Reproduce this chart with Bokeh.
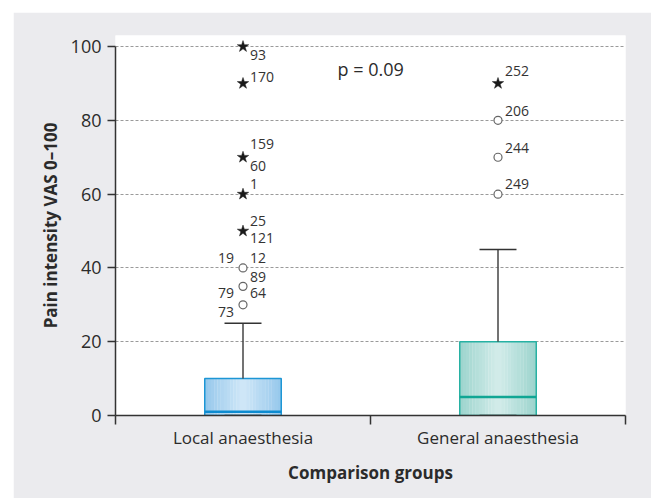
from bokeh.plotting import figure
from bokeh.layouts import column, row
from bokeh.models import Range1d, FixedTicker, ColumnDataSource, Label, Spacer
from bokeh.core.properties import value
from bokeh.embed import file_html
from bokeh.resources import INLINE

# ---------------- data ----------------
groups = ["Local anaesthesia", "General anaesthesia"]
q1 = [0, 0]
medians = [1, 5]
q3 = [10, 20]
whisker_low = [0, 0]
whisker_high = [25, 45]

local_outliers = [40, 35, 30]
local_extremes = [100, 90, 70, 60, 50]
general_outliers = [80, 70, 60]
general_extremes = [90]

local_case_ids = ["93", "170", "159", "60", "1", "25", "121", "19", "12", "89", "79", "64", "73"]
local_case_values = [100, 90, 70, 70, 60, 50, 50, 40, 40, 35, 35, 35, 30]
general_case_ids = ["252", "206", "244", "249"]
general_case_values = [90, 80, 70, 60]

y_ticks = [0, 20, 40, 60, 80, 100]
p_text = "p = 0.09"

# ---------------- styles ----------------
FONT = "Open Sans"
TEXT = "#2b2b2b"
PANEL = "#ebebee"
box_edge = ["#96c8ec", "#9cd4cd"]
box_center = ["#d0e7f7", "#d3ecea"]
box_border = ["#1d96d5", "#27b1a3"]
median_color = ["#0d8bd0", "#10a694"]
box_w = 0.30
cap_w = 0.145
# label placement per case: (side, dy px)
local_label_side = ["r", "r", "r", "r", "r", "r", "r", "l", "r", "r", "l", "r", "l"]
local_label_dy = [8, -6, -13, 9, -10, -10, 7, -10, -10, -9, 7, 7, 7]
general_label_side = ["r", "r", "r", "r"]
general_label_dy = [-12, -9, -9, -10]

pos = [i + 0.5 for i in range(len(groups))]

p = figure(width=638, height=486, x_range=Range1d(0, len(groups)), y_range=Range1d(0, 103),
           output_backend="svg", toolbar_location=None,
           min_border_left=102, min_border_right=26, min_border_top=23, min_border_bottom=83)
p.border_fill_color = PANEL
p.background_fill_color = "white"
p.outline_line_color = None

p.xgrid.visible = False
p.ygrid.ticker = FixedTicker(ticks=y_ticks[1:])
p.ygrid.grid_line_color = "#9a9a9a"
p.ygrid.grid_line_dash = "3 2"
p.ygrid.grid_line_width = 1

# y axis
p.yaxis.ticker = FixedTicker(ticks=y_ticks)
p.yaxis.bounds = (0, 100)
p.yaxis.axis_label = "Pain intensity VAS 0\u2013100"
p.yaxis.major_tick_out = 8
p.yaxis.major_tick_in = 0
p.yaxis.minor_tick_line_color = None
p.yaxis.major_label_standoff = 6
p.yaxis.axis_label_standoff = 6

# x axis
p.xaxis.ticker = FixedTicker(ticks=pos, minor_ticks=list(range(len(groups) + 1)))
p.xaxis.major_label_overrides = {pos[i]: groups[i] for i in range(len(groups))}
p.xaxis.axis_label = "Comparison groups"
p.xaxis.major_tick_out = 8
p.xaxis.major_tick_in = 0
p.xaxis.minor_tick_out = 9
p.xaxis.minor_tick_in = 0
p.xaxis.minor_tick_line_color = "#333333"
p.xaxis.minor_tick_line_width = 1.5
p.xaxis.major_label_standoff = 1
p.xaxis.axis_label_standoff = 9

for ax in (p.xaxis, p.yaxis):
    ax.axis_line_color = "#333333"
    ax.axis_line_width = 1.5
    ax.major_tick_line_width = 1.5
    ax.major_label_text_font = FONT
    ax.major_label_text_color = TEXT
    ax.axis_label_text_font = FONT
    ax.axis_label_text_font_style = "bold"
    ax.axis_label_text_color = TEXT
    ax.axis_label_text_font_size = "17px"
p.yaxis.major_tick_line_color = "#333333"
p.xaxis.major_tick_line_color = None
p.yaxis.major_label_text_font_size = "18px"
p.xaxis.major_label_text_font_size = "17px"


def hex2rgb(h):
    h = h.lstrip("#")
    return [int(h[i:i + 2], 16) for i in (0, 2, 4)]


def mix(a, b, t):
    ra, rb = hex2rgb(a), hex2rgb(b)
    return "#%02x%02x%02x" % tuple(int(round(ra[k] + (rb[k] - ra[k]) * t)) for k in range(3))


# gradient boxes
n_strips = 24
sw = box_w / n_strips
for i in range(len(groups)):
    xs, cols = [], []
    for k in range(n_strips):
        off = -box_w / 2 + sw * (k + 0.5)
        t = abs(off) / (box_w / 2)
        xs.append(pos[i] + off)
        cols.append(mix(box_center[i], box_edge[i], t))
    p.vbar(x=xs, width=sw * 1.08, bottom=q1[i], top=q3[i], fill_color=cols, line_color=None)

# box borders
p.vbar(x=pos, width=box_w, bottom=q1, top=q3, fill_color=None, line_color=box_border, line_width=1.5)

# medians
p.segment(x0=[x - box_w / 2 for x in pos], x1=[x + box_w / 2 for x in pos], y0=medians, y1=medians,
          line_color=median_color, line_width=2.5)

# whiskers
p.segment(x0=pos, x1=pos, y0=q3, y1=whisker_high, line_color="#444444", line_width=1.5)
p.segment(x0=pos, x1=pos, y0=q1, y1=whisker_low, line_color="#444444", line_width=1.5)
p.segment(x0=[x - cap_w / 2 for x in pos], x1=[x + cap_w / 2 for x in pos], y0=whisker_high, y1=whisker_high,
          line_color="#333333", line_width=1.5)
p.segment(x0=[x - cap_w / 2 for x in pos], x1=[x + cap_w / 2 for x in pos], y0=whisker_low, y1=whisker_low,
          line_color="#333333", line_width=1.5)

# outliers (circles) and extremes (stars)
ox = [pos[0]] * len(local_outliers) + [pos[1]] * len(general_outliers)
oy = local_outliers + general_outliers
p.scatter(x=ox, y=oy, marker="circle", size=8, fill_color="white", line_color="#666666", line_width=1.2)
ex = [pos[0]] * len(local_extremes) + [pos[1]] * len(general_extremes)
ey = local_extremes + general_extremes
p.scatter(x=ex, y=ey, marker="star", size=12, fill_color="#1a1a1a", line_color="#1a1a1a", line_width=0.5)

# case labels
ids = local_case_ids + general_case_ids
vals = local_case_values + general_case_values
sides = local_label_side + general_label_side
dys = local_label_dy + general_label_dy
lx = [pos[0]] * len(local_case_ids) + [pos[1]] * len(general_case_ids)
src = ColumnDataSource(dict(
    x=lx, y=vals, text=ids,
    xo=[7 if s == "r" else -9 for s in sides],
    yo=dys,
    align=["left" if s == "r" else "right" for s in sides],
))
p.text(x="x", y="y", text="text", source=src, x_offset="xo", y_offset="yo", text_align="align",
       text_baseline="middle", text_font=value(FONT), text_font_size="14px", text_color="#333333")

p.add_layout(Label(x=0.871, y=94.0, text=p_text, text_font=FONT, text_font_size="18px",
                   text_color=TEXT, text_baseline="alphabetic", text_align="left"))

page = column(Spacer(height=12, width=651), row(Spacer(width=13, height=486), p))
open("out.html", "w").write(file_html(page, INLINE))
